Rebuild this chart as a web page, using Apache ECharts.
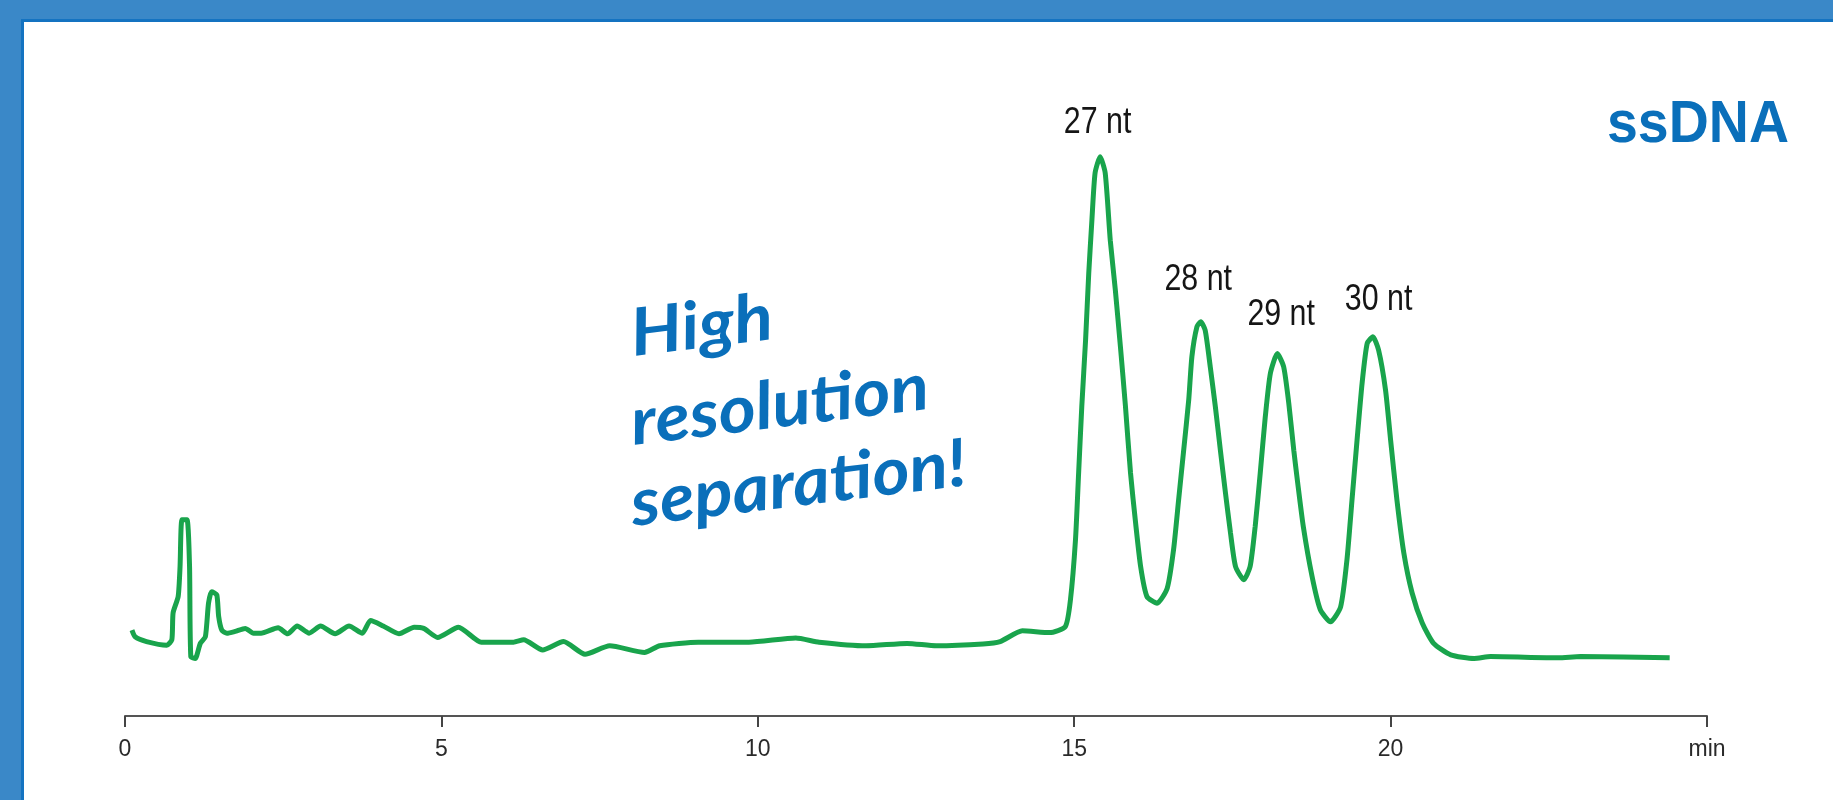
<!DOCTYPE html>
<html>
<head>
<meta charset="utf-8">
<script src="https://cdn.jsdelivr.net/npm/echarts/dist/echarts.min.js"></script>
<style>
  html, body { margin: 0; padding: 0; background: #3a88c8; width: 1833px; height: 800px; overflow: hidden; }
  #panel { position: absolute; left: 21px; top: 19px; right: 0; bottom: 0; background: #ffffff;
           border-left: 3px solid #1473c1; border-top: 3px solid #1473c1; }
  #chart { position: absolute; left: 0; top: 0; width: 1833px; height: 800px; }
</style>
</head>
<body>
<div id="panel"></div>
<div id="chart"></div>
<script>
// Retention time (min) and detector signal (arbitrary units)
const times = [
  0.11, 0.16, 0.34, 0.66, 0.74, 0.76, 0.84, 0.87, 0.90, 0.98, 1.02, 1.04, 1.11, 1.19, 1.27, 1.32, 1.37, 1.45,
  1.48, 1.53, 1.61, 1.74, 1.90, 2.03, 2.15, 2.42, 2.57, 2.72, 2.91, 3.09, 3.32, 3.54, 3.75, 3.88, 4.08, 4.33,
  4.57, 4.72, 4.94, 5.27, 5.63, 6.14, 6.30, 6.60, 6.93, 7.27, 7.66, 8.21, 8.45, 9.06, 9.86, 10.60, 10.97,
  11.71, 12.36, 12.82, 13.56, 13.83, 14.18, 14.61, 14.86, 14.94, 15.02, 15.07, 15.12, 15.18, 15.23, 15.28,
  15.33, 15.41, 15.49, 15.57, 15.65, 15.73, 15.81, 15.89, 15.97, 16.05, 16.15, 16.31, 16.47, 16.57, 16.65,
  16.73, 16.81, 16.86, 16.94, 17.00, 17.07, 17.15, 17.23, 17.31, 17.39, 17.47, 17.55, 17.68, 17.78, 17.86,
  17.94, 18.02, 18.10, 18.21, 18.31, 18.39, 18.47, 18.53, 18.62, 18.76, 18.89, 19.05, 19.21, 19.31, 19.39,
  19.47, 19.55, 19.63, 19.72, 19.81, 19.92, 20.00, 20.10, 20.21, 20.34, 20.50, 20.68, 20.95, 21.32, 21.58,
  22.65, 23.00, 24.41
];
const signal = [
  14.3, 13.2, 12.4, 11.8, 12.7, 17.2, 19.9, 24.9, 32.7, 32.7, 24.9, 9.9, 9.6, 12.1, 13.2, 18.8, 20.7, 20.2,
  16.6, 14.3, 13.8, 14.1, 14.6, 13.8, 13.8, 14.7, 13.7, 15.0, 13.8, 15.0, 13.7, 15.0, 13.8, 15.9, 15.0, 13.7,
  14.8, 14.6, 13.1, 14.8, 12.3, 12.3, 12.7, 11.0, 12.4, 10.3, 11.7, 10.6, 11.7, 12.3, 12.3, 13.0, 12.3,
  11.7, 12.1, 11.7, 12.0, 12.4, 14.2, 13.9, 14.9, 19.3, 29.3, 40.5, 51.6, 62.7, 73.8, 82.7,
  90.5, 93.2, 90.5, 79.3, 71.0, 61.6, 51.6, 40.5, 32.2, 24.9, 19.9, 18.8, 21.3, 27.7, 36.0,
  44.3, 52.7, 59.9, 64.9, 65.7, 64.3, 58.2, 51.6, 44.3, 37.2, 30.5, 24.9, 22.7, 24.9, 31.6,
  40.5, 49.9, 57.1, 60.4, 58.2, 52.2, 44.3, 39.0, 31.6, 23.2, 17.7, 15.7, 18.2, 26.0, 36.0,
  46.0, 55.5, 62.1, 63.2, 61.0, 54.3, 46.0, 36.0, 27.1, 20.5, 15.5, 12.1, 10.2, 9.6, 9.9,
  9.7, 9.9, 9.7
];
// Peak annotations (label anchor in data units)
const peakNames = ['27 nt', '28 nt', '29 nt', '30 nt'];
const peakLabelTimes = [15.37, 16.96, 18.27, 19.81];
const peakLabelLevels = [98.8, 72.7, 66.8, 69.3];
// X-axis ticks
const tickValues = [0, 5, 10, 15, 20, 25];
const tickLabels = ['0', '5', '10', '15', '20', 'min'];
const titleText = 'ssDNA';
const noteLines = ['High', 'resolution', 'separation!'];

const lineData = times.map((t, i) => [t, signal[i]]);

const chart = echarts.init(document.getElementById('chart'), null, { renderer: 'canvas' });
const blue = '#0a6fba';
const rot = 7 * Math.PI / 180;
const noteStarts = [[631, 335], [631, 424], [631, 505]];
const narrow = 'Liberation Sans, Arial, sans-serif';

chart.setOption({
  backgroundColor: 'transparent',
  animation: false,
  grid: { left: 125, right: 126, top: 116, bottom: 84 },
  xAxis: {
    type: 'value', min: 0, max: 25, interval: 5,
    axisLine: { show: true, lineStyle: { color: '#555555', width: 2 } },
    axisTick: { show: true, length: 11, lineStyle: { color: '#444444', width: 2 } },
    splitLine: { show: false },
    axisLabel: {
      margin: 22, color: '#2a2a2a', fontSize: 23, fontFamily: 'Liberation Sans, Arial, sans-serif',
      formatter: v => { const k = tickValues.indexOf(v); return k >= 0 ? tickLabels[k] : ''; }
    }
  },
  yAxis: { type: 'value', min: 0, max: 100, show: false },
  series: [
    {
      type: 'line', data: lineData, showSymbol: false, smooth: 0.2,
      lineStyle: { color: '#19a44c', width: 5 }, z: 3
    }
  ]
});

const peakGraphics = peakNames.map((n, i) => {
  const p = chart.convertToPixel({ gridIndex: 0 }, [peakLabelTimes[i], peakLabelLevels[i]]);
  return {
    type: 'text', x: p[0], y: p[1], scaleX: 0.82, silent: true,
    style: { text: n, fill: '#151515', fontSize: 37, fontFamily: narrow, align: 'center', verticalAlign: 'middle' }
  };
});

chart.setOption({
  graphic: [
    {
      type: 'text', x: 1607, y: 95, scaleX: 0.925, silent: true,
      style: { text: titleText, fill: blue, fontSize: 60, fontWeight: 'bold', fontFamily: narrow,
               align: 'left', verticalAlign: 'top' }
    }
  ].concat(peakGraphics).concat(noteLines.map((s, i) => ({
    type: 'text', x: noteStarts[i][0], y: noteStarts[i][1], rotation: rot, scaleX: 1.08, silent: true,
    style: { text: s, fill: blue, fontSize: 66, fontWeight: 'bold', fontStyle: 'italic',
             fontFamily: 'Lato, Noto Sans, sans-serif', align: 'left', verticalAlign: 'middle' }
  })))
});
</script>
</body>
</html>
